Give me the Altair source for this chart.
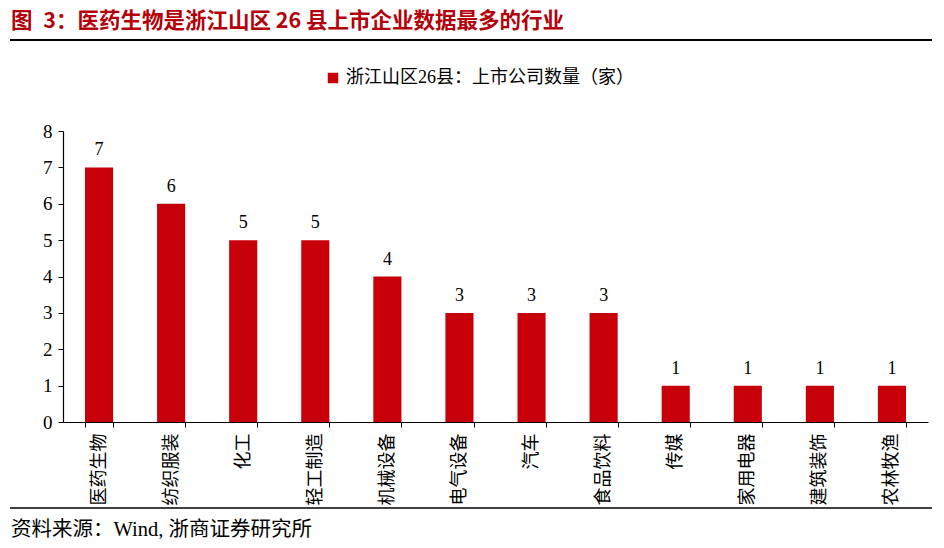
import altair as alt
import pandas as pd

categories = ["医药生物", "纺织服装", "化工", "轻工制造", "机械设备", "电气设备",
              "汽车", "食品饮料", "传媒", "家用电器", "建筑装饰", "农林牧渔"]
counts = [7, 6, 5, 5, 4, 3, 3, 3, 1, 1, 1, 1]
y_ticks = [0, 1, 2, 3, 4, 5, 6, 7, 8]
series_name = "浙江山区26县：上市公司数量（家）"
title_text = "图\u20023：医药生物是浙江山区 26 县上市企业数据最多的行业"
source_text = "资料来源：Wind, 浙商证券研究所"

RED = "#C8000A"
FONT = "Liberation Serif, Noto Sans CJK SC"

df = pd.DataFrame({"cat": categories, "n": counts, "series": [series_name] * len(categories)})

x_enc = alt.X("cat:N", sort=categories, title=None,
              scale=alt.Scale(paddingInner=0.61, paddingOuter=0.305),
              axis=alt.Axis(labelAngle=-90, labelFont=FONT, labelFontSize=18, labelColor="black",
                            labelPadding=6, domainColor="black", tickColor="black",
                            tickSize=5, tickBand="extent", domainWidth=1.2, labelLimit=200))
y_enc = alt.Y("n:Q", title=None,
              scale=alt.Scale(domain=[0, 8], nice=False),
              axis=alt.Axis(values=y_ticks, labelOverlap=False, grid=False,
                            labelFont=FONT, labelFontSize=19,
                            labelColor="black", domainColor="black", tickColor="black",
                            tickSize=5, labelPadding=6, domainWidth=1.2))

bars = alt.Chart(df).mark_bar().encode(
    x=x_enc, y=y_enc,
    color=alt.Color("series:N", scale=alt.Scale(domain=[series_name], range=[RED]),
                    legend=alt.Legend(title=None, orient="none", legendX=261, legendY=-62,
                                      symbolType="square", symbolSize=110, labelFont=FONT,
                                      labelFontSize=18, labelColor="black", symbolStrokeWidth=0,
                                      labelLimit=600, labelOffset=4))
)

labels = alt.Chart(df).mark_text(baseline="bottom", dy=-8, font=FONT, fontSize=18, color="black").encode(
    x=x_enc, y=y_enc, text="n:Q"
)

title = alt.Chart(pd.DataFrame({"t": [title_text]})).mark_text(
    align="left", baseline="alphabetic", font="Noto Sans CJK SC", fontWeight="bold",
    fontSize=21.5, color="#B4000A"
).encode(text="t:N", x=alt.value(-52), y=alt.value(-103))

top_line = alt.Chart(pd.DataFrame({"a": [0]})).mark_rule(color="black", strokeWidth=2).encode(
    x=alt.value(-53), x2=alt.value(869), y=alt.value(-91))
bottom_line = alt.Chart(pd.DataFrame({"a": [0]})).mark_rule(color="black", strokeWidth=1.5).encode(
    x=alt.value(-53), x2=alt.value(869), y=alt.value(377))

source = alt.Chart(pd.DataFrame({"t": [source_text]})).mark_text(
    align="left", baseline="middle", font=FONT, fontSize=20.5, color="black"
).encode(text="t:N", x=alt.value(-52), y=alt.value(399))

chart = alt.layer(bars, labels, title, top_line, bottom_line, source).properties(
    width=865, height=291,
    autosize=alt.AutoSizeParams(type="none"),
    padding={"left": 55, "top": 123, "right": 8, "bottom": 117},
).configure_view(stroke=None)

chart.save("out.html", embed_options={"renderer": "svg", "actions": False})
